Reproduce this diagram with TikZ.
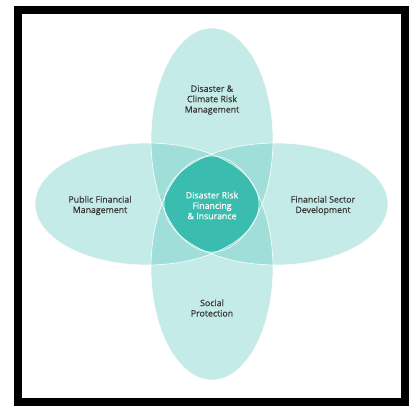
\documentclass[tikz,border=0pt]{standalone}
\usepackage{fontspec}
\setmainfont{Open Sans}
\newfontfamily\lblfont{Open Sans}[FakeBold=0.5]
\definecolor{petal}{RGB}{90,200,190}
\definecolor{core}{RGB}{58,189,174}
\definecolor{labelgray}{RGB}{55,55,55}
\begin{document}
\begin{tikzpicture}[x=1pt,y=-1pt,
  petalfill/.style={fill=petal, fill opacity=0.35},
  petaledge/.style={draw=white, line width=0.7pt, draw opacity=0.85},
  lbl/.style={text=labelgray, font=\lblfont\fontsize{8.8}{10.4}\selectfont, align=center, inner sep=0pt},
  corelbl/.style={lbl, text=white}]
\useasboundingbox (0,0) rectangle (409,405);
\fill[white] (0,0) rectangle (409,405);

% four petals
\def\toppetal{(212,140) ellipse [x radius=61pt, y radius=112pt]}
\def\botpetal{(212,268) ellipse [x radius=61pt, y radius=112pt]}
\def\leftpetal{(147,204) ellipse [x radius=112pt, y radius=61pt]}
\def\rightpetal{(276,204) ellipse [x radius=112pt, y radius=61pt]}

\fill[petalfill] \toppetal;
\fill[petalfill] \botpetal;
\fill[petalfill] \leftpetal;
\fill[petalfill] \rightpetal;

% common core of all petals
\begin{scope}
  \clip \toppetal;
  \clip \botpetal;
  \clip \leftpetal;
  \fill[core] \rightpetal;
\end{scope}

\draw[petaledge] \toppetal;
\draw[petaledge] \botpetal;
\draw[petaledge] \leftpetal;
\draw[petaledge] \rightpetal;

% labels
\node[lbl] (dcrm) at (212,100) {Disaster \&\\Climate Risk\\Management};
\node[lbl] (pfm) at (100,205.5) {Public Financial\\Management};
\node[lbl] (fsd) at (323,205.5) {Financial Sector\\Development};
\node[lbl] (sp) at (212,308) {Social\\Protection};
\node[corelbl] (drfi) at (212,205.5) {Disaster Risk\\Financing\\\& Insurance};

% frame
\draw[line width=8pt] (18,10) rectangle (405,401.5);
\end{tikzpicture}
\end{document}
